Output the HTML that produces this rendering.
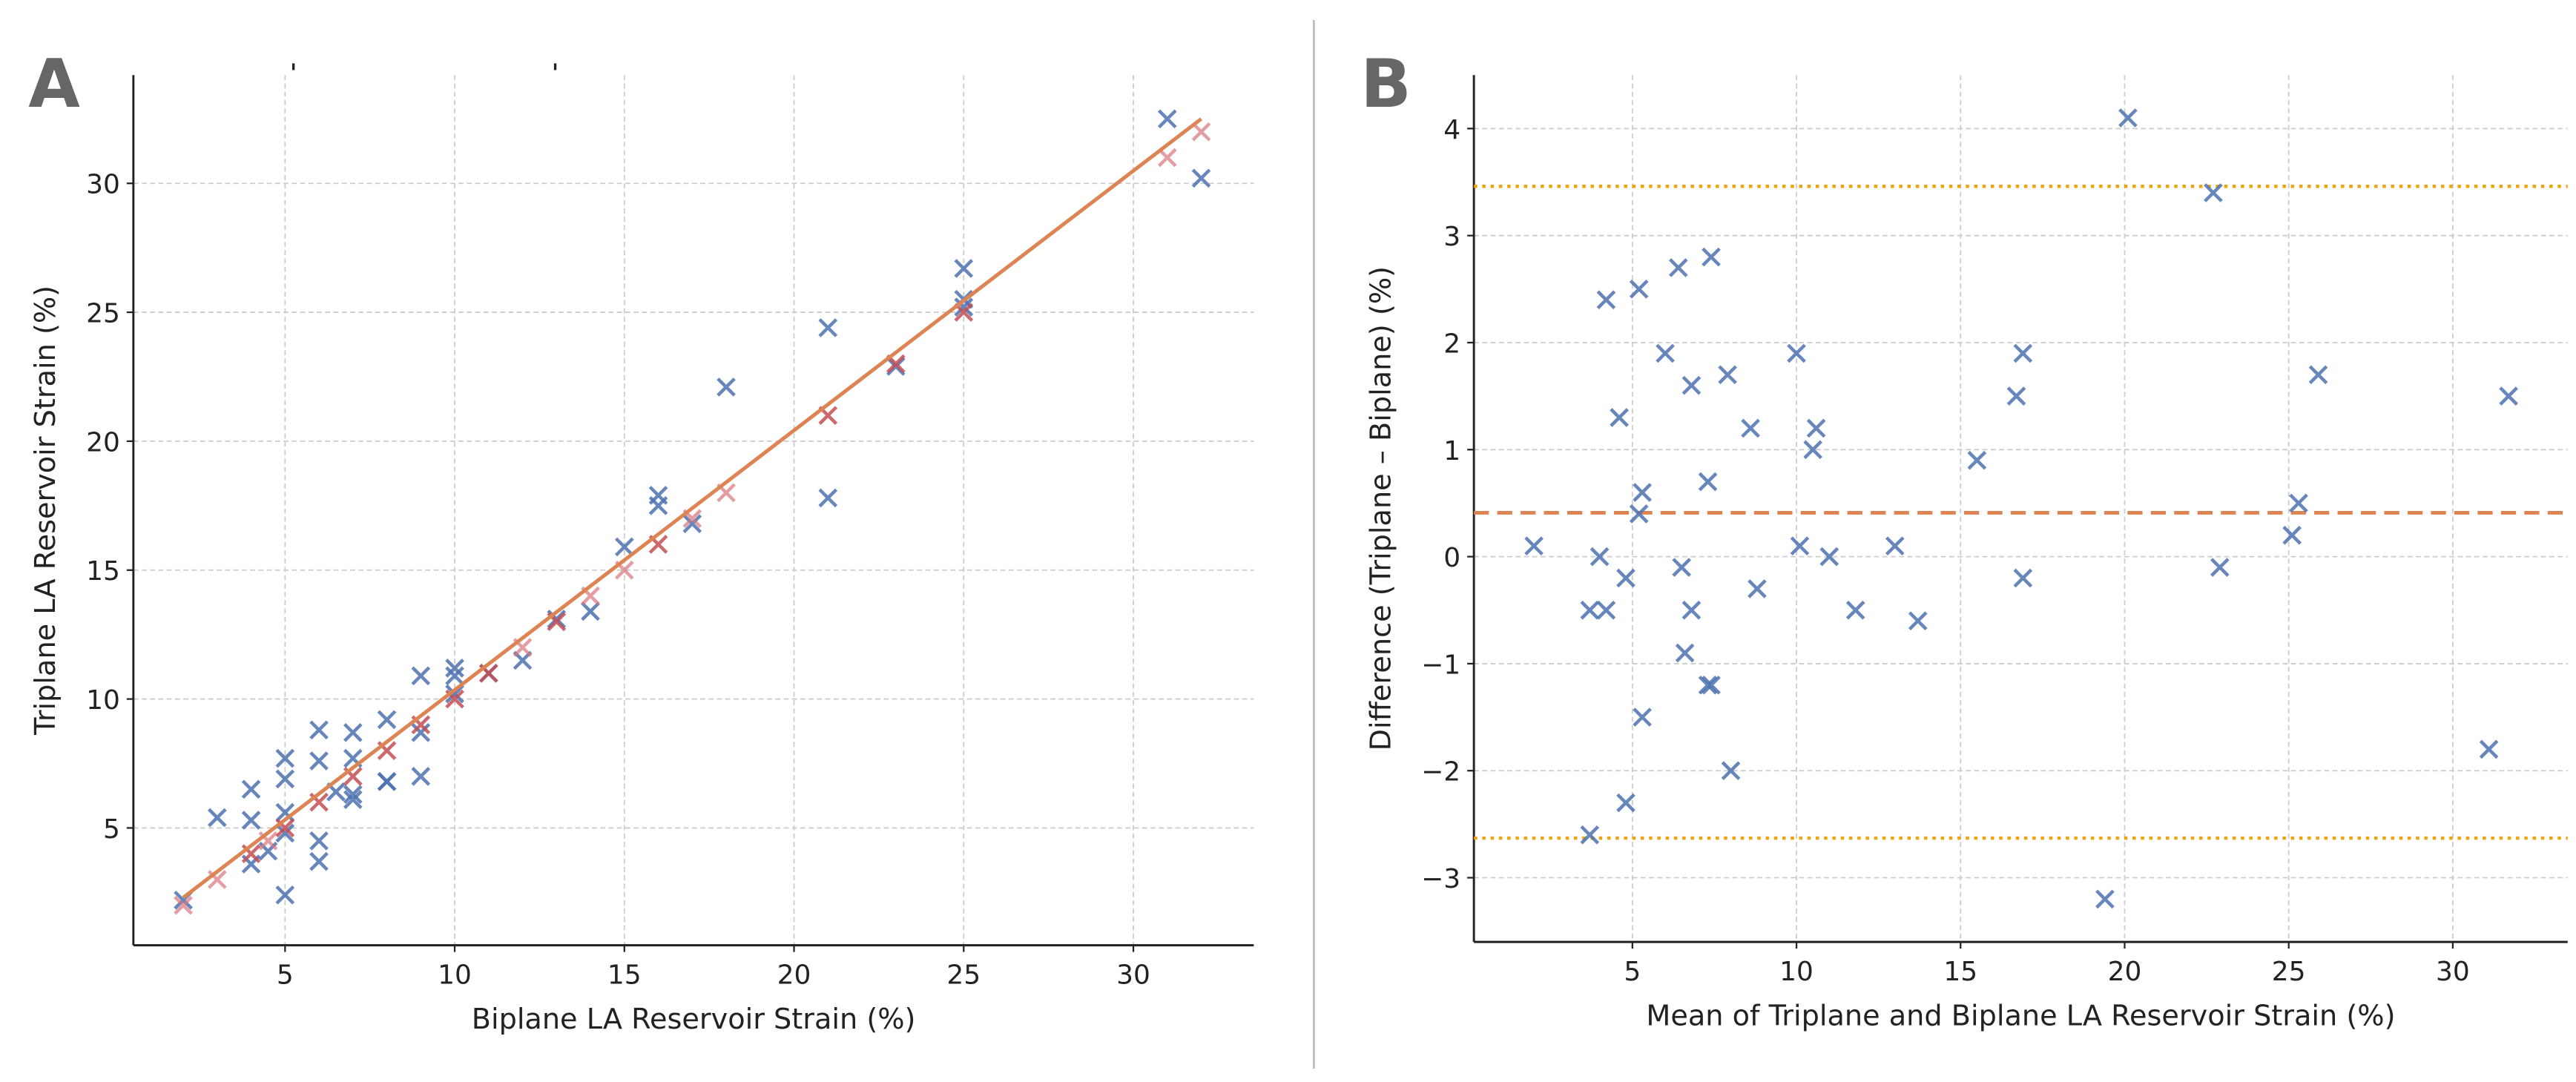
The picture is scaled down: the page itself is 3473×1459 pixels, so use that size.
<!DOCTYPE html>
<html><head><meta charset="utf-8"><style>
html,body{margin:0;padding:0;background:#fff;}
svg{display:block;font-family:"DejaVu Sans","Liberation Sans",sans-serif;}
</style></head><body>
<svg id="chart" width="3473" height="1459" viewBox="0 0 1545 649" xmlns="http://www.w3.org/2000/svg">
<rect width="1545" height="649" fill="#fff"/>
<line x1="788" y1="12" x2="788" y2="641" stroke="#bbb" stroke-width="1.2"/>
<text x="17" y="64" font-size="40" font-weight="bold" fill="#666">A</text>
<text x="816" y="64" font-size="40" font-weight="bold" fill="#666">B</text>
<line x1="176" y1="38" x2="176" y2="42" stroke="#222" stroke-width="1.5"/>
<line x1="333" y1="38" x2="333" y2="42" stroke="#222" stroke-width="1.5"/>
<g id="pa"></g>
<g id="pb"></g>
</svg>
<script>
// Panel A data
const aBlueX = [2,3,4,4,4,4.5,5,5,5,5,5,6,6,6,6,6.5,7,7,7,7,8,8,8,9,9,9,10,10,10,11,12,13,14,15,16,16,17,18,21,21,23,25,25,25,31,32];
const aBlueY = [2.2,5.4,6.5,5.3,3.6,4.1,7.7,6.9,5.6,4.8,2.4,8.8,7.6,4.5,3.7,6.4,8.7,7.7,6.3,6.1,9.2,6.8,6.8,10.9,8.7,7.0,11.2,10.9,10.2,11,11.5,13.1,13.4,15.9,17.9,17.5,16.8,22.1,24.4,17.8,22.9,26.7,25.5,25.2,32.5,30.2];
const aRedX = [4,5,6,7,8,9,10,11,13,16,21,23,25];
const aPinkX = [2,3,4.5,12,14,15,17,18,31,32];
const aFit = [[2,2.3],[32,32.5]];
const aXTicks = [5,10,15,20,25,30];
const aYTicks = [5,10,15,20,25,30];
// Panel B data
const bMean = [2,3.7,3.7,4,4.2,4.2,4.6,4.8,4.8,5.2,5.2,5.3,5.3,6,6.4,6.5,6.6,6.8,6.8,7.4,7.3,7.3,7.4,7.9,8,8.6,8.8,10,10.1,10.5,10.6,11,11.8,13,13.7,15.5,16.7,16.9,16.9,19.4,20.1,22.7,22.9,25.1,25.3,25.9,31.1,31.7];
const bDiff = [0.1,-0.5,-2.6,0,-0.5,2.4,1.3,-0.2,-2.3,2.5,0.4,0.6,-1.5,1.9,2.7,-0.1,-0.9,-0.5,1.6,2.8,0.7,-1.2,-1.2,1.7,-2.0,1.2,-0.3,1.9,0.1,1.0,1.2,0,-0.5,0.1,-0.6,0.9,1.5,1.9,-0.2,-3.2,4.1,3.4,-0.1,0.2,0.5,1.7,-1.8,1.5];
const bMeanDiff = [0.41];
const bLoA = [3.46,-2.63];
const bXTicks = [5,10,15,20,25,30];
const bYTicks = [-3,-2,-1,0,1,2,3,4];

const NS='http://www.w3.org/2000/svg';
function mk(parent,tag,attrs){const e=document.createElementNS(NS,tag);for(const k in attrs)e.setAttribute(k,attrs[k]);parent.appendChild(e);return e;}

function axes(g,o){
  const sx=v=>o.x0+(v-o.xmin)*(o.x1-o.x0)/(o.xmax-o.xmin);
  const sy=v=>o.y0-(v-o.ymin)*(o.y0-o.y1)/(o.ymax-o.ymin);
  o.xt.forEach(t=>{
    const l=mk(g,'line',{x1:sx(t),x2:sx(t),y1:o.y1,y2:o.y0,stroke:'#ccc','stroke-width':0.8,'stroke-dasharray':'3,2'});
    
    
    const tk=mk(g,'line',{x1:sx(t),x2:sx(t),y1:o.y0,y2:o.y0+4,stroke:'#222','stroke-width':1});
    
    
    const tx=mk(g,'text',{x:sx(t),y:o.y0+23,'font-size':16,'text-anchor':'middle',fill:'#222'});
    tx.textContent=t;
    
    
  });
  o.yt.forEach(t=>{
    const l=mk(g,'line',{x1:o.x0,x2:o.x1,y1:sy(t),y2:sy(t),stroke:'#ccc','stroke-width':0.8,'stroke-dasharray':'3,2'});
    
    
    const tk=mk(g,'line',{x1:o.x0-4,x2:o.x0,y1:sy(t),y2:sy(t),stroke:'#222','stroke-width':1});
    
    
    const tx=mk(g,'text',{x:o.x0-8,y:sy(t)+6,'font-size':16,'text-anchor':'end',fill:'#222'});
    tx.textContent=t<0?'\u2212'+(-t):t;
    
    
  });
  const xs=mk(g,'line',{x1:o.x0,x2:o.x1,y1:o.y0,y2:o.y0,stroke:'#222','stroke-width':1.3});
  
  
  const ys=mk(g,'line',{x1:o.x0,x2:o.x0,y1:o.y1,y2:o.y0,stroke:'#222','stroke-width':1.3});
  
  
  const xt=mk(g,'text',{x:(o.x0+o.x1)/2,y:o.y0+50,'font-size':17,'text-anchor':'middle',fill:'#222'});
  xt.textContent=o.xlabel;
  
  
  const cy=(o.y0+o.y1)/2;
  const yt=mk(g,'text',{x:o.ylx,y:cy,'font-size':17,'text-anchor':'middle',fill:'#222',transform:`rotate(-90 ${o.ylx} ${cy})`});
  yt.textContent=o.ylabel;
  
  
  return {sx,sy};
}
function cross(g,x,y,color,op,name){
  const r=5;
  const p=mk(g,'path',{d:`M${x-r},${y-r}L${x+r},${y+r}M${x-r},${y+r}L${x+r},${y-r}`,stroke:color,'stroke-width':2,'stroke-opacity':op,fill:'none'});
  
  
}

// Panel A
const ga=document.getElementById('pa');
const A=axes(ga,{x0:80,x1:752,y0:567,y1:45,xmin:0.53,xmax:33.55,ymin:0.45,ymax:34.2,xt:aXTicks,yt:aYTicks,xlabel:'Biplane LA Reservoir Strain (%)',ylabel:'Triplane LA Reservoir Strain (%)',ylx:33});
aBlueX.forEach((x,i)=>cross(ga,A.sx(x),A.sy(aBlueY[i]),'#4c72b0',0.85,'triplane-point'));
aPinkX.forEach(x=>cross(ga,A.sx(x),A.sy(x),'#d9737a',0.7,'biplane-point'));
aRedX.forEach(x=>cross(ga,A.sx(x),A.sy(x),'#c44e52',0.85,'biplane-point'));
const fl=mk(ga,'line',{x1:A.sx(aFit[0][0]),y1:A.sy(aFit[0][1]),x2:A.sx(aFit[1][0]),y2:A.sy(aFit[1][1]),stroke:'#dd8452','stroke-width':2.2});



// Panel B
const gb=document.getElementById('pb');
const B=axes(gb,{x0:884,x1:1540,y0:565,y1:45,xmin:0.17,xmax:33.5,ymin:-3.6,ymax:4.5,xt:bXTicks,yt:bYTicks,xlabel:'Mean of Triplane and Biplane LA Reservoir Strain (%)',ylabel:'Difference (Triplane \u2013 Biplane) (%)',ylx:834});
bLoA.forEach(v=>{
  const l=mk(gb,'line',{x1:884,x2:1540,y1:B.sy(v),y2:B.sy(v),stroke:'#f0a30a','stroke-width':2,'stroke-dasharray':'2,3'});
  
  
});
bMeanDiff.forEach(v=>{
  const l=mk(gb,'line',{x1:884,x2:1540,y1:B.sy(v),y2:B.sy(v),stroke:'#dd8452','stroke-width':2.2,'stroke-dasharray':'9,5'});
  
  
});
bMean.forEach((m,i)=>cross(gb,B.sx(m),B.sy(bDiff[i]),'#4c72b0',0.85,'difference-point'));
</script>
</body></html>
